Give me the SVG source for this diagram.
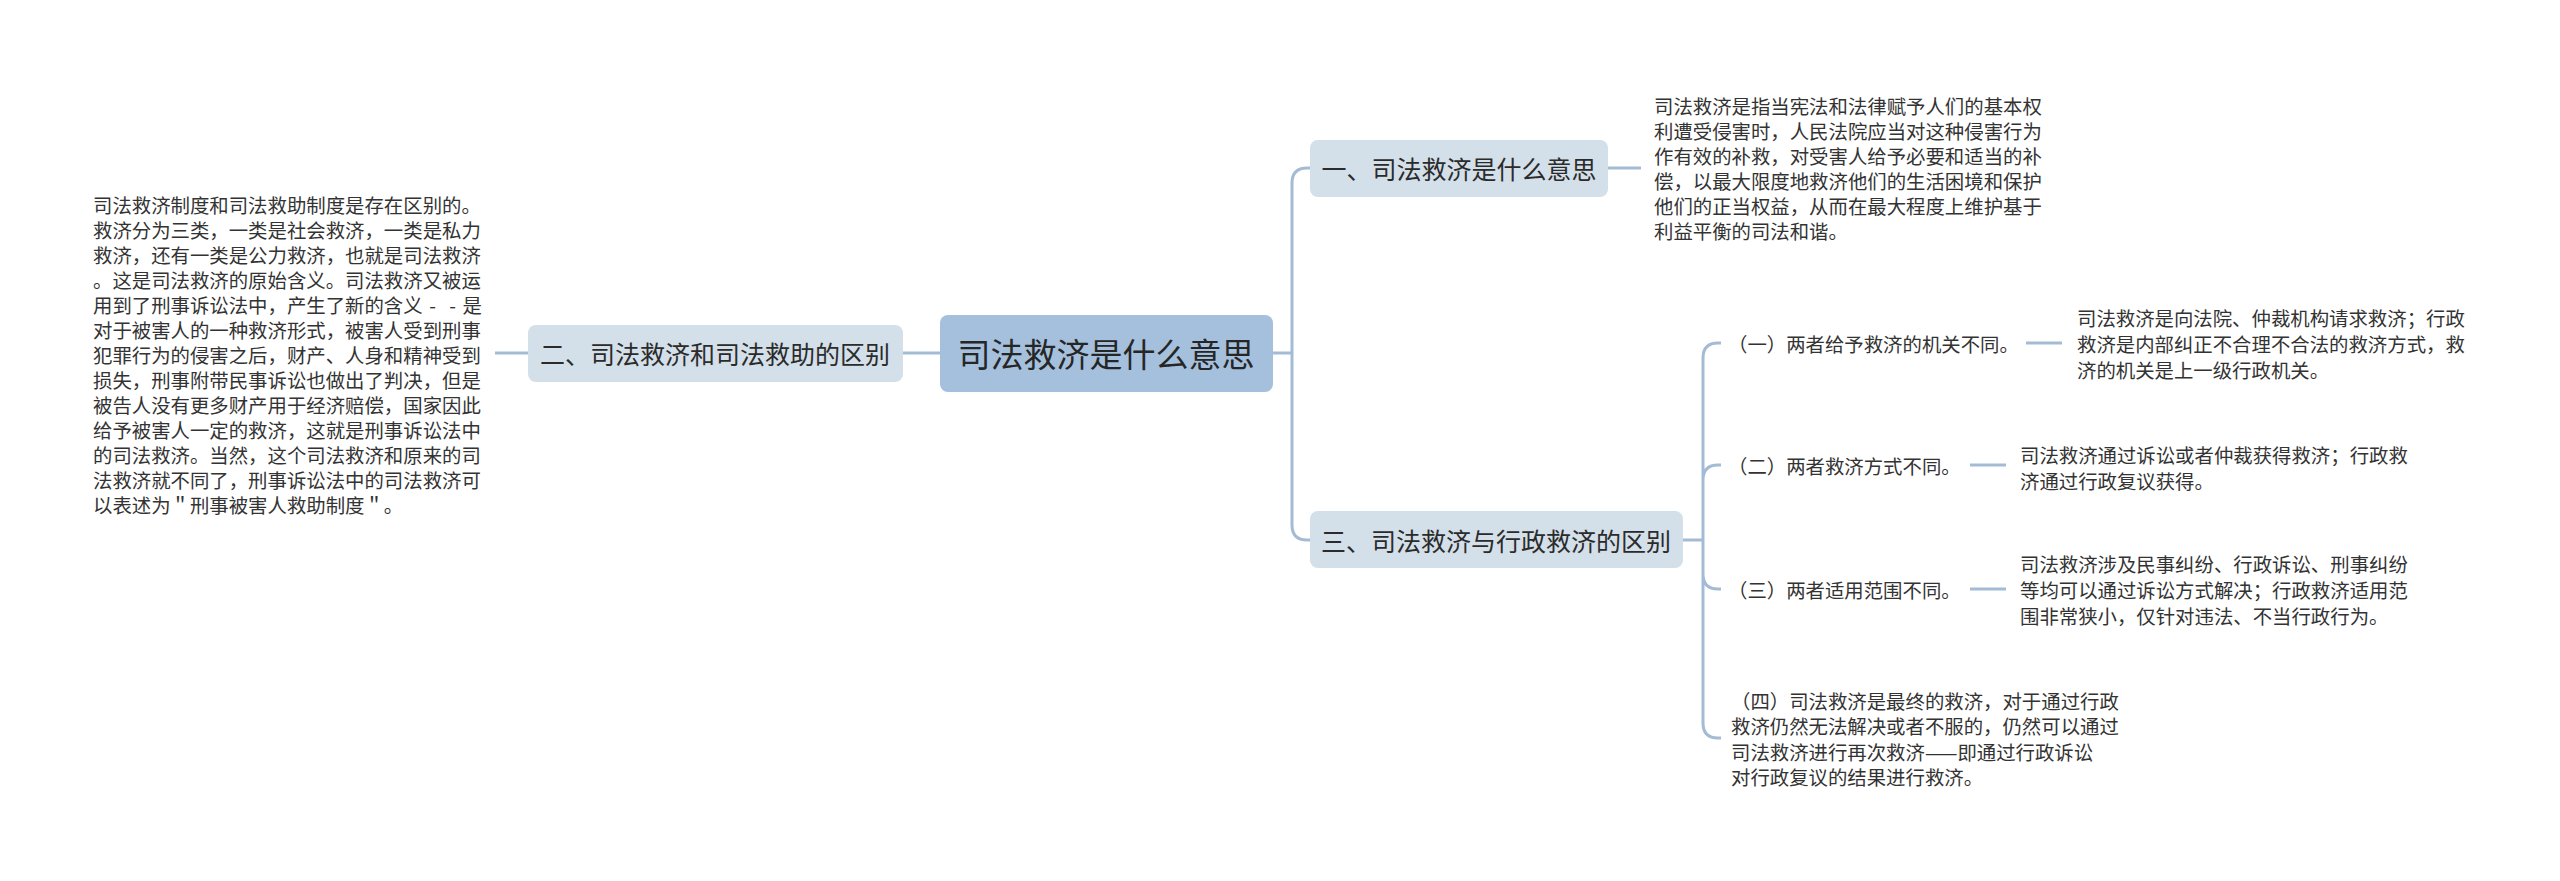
<svg xmlns="http://www.w3.org/2000/svg" width="2560" height="881" viewBox="0 0 2560 881">
<style>
text{font-family:"Noto Sans CJK SC","Noto Sans",sans-serif;fill:#333;dominant-baseline:central}
.t{font-size:19.4px}
.n{font-size:25px;text-anchor:middle;fill:#2b2b2b}
.c{font-size:33px;text-anchor:middle;fill:#262626}
.box2{fill:#d3dfe9}
.box1{fill:#a4c0dc}
.ln{fill:none;stroke:#a3bbd4;stroke-width:3}
</style>
<rect width="2560" height="881" fill="#fff"/>
<g id="connectors">
<path class="ln" d="M1273,353 H1292 M1292,353 V183 Q1292,168 1307,168 H1310 M1292,353 V525 Q1292,540 1307,540 H1310"/>
<path class="ln" d="M940,353 H903"/>
<path class="ln" d="M528,353 H495"/>
<path class="ln" d="M1608,168 H1641"/>
<path class="ln" d="M1683,540 H1703 M1703,540 V358 Q1703,343 1718,343 H1721 M1703,540 V480 Q1703,465 1718,465 H1721 M1703,540 V574 Q1703,589 1718,589 H1721 M1703,540 V723 Q1703,738 1718,738 H1721"/>
<path class="ln" d="M2026,343 H2062 M1970,465 H2006 M1970,589 H2006"/>
</g>
<g id="root">
<rect class="box1" x="940" y="315" width="333" height="77" rx="8"/>
<text class="c" x="1106" y="353">司法救济是什么意思</text>
</g>
<g id="n2">
<rect class="box2" x="528" y="325" width="375" height="57" rx="8"/>
<text class="n" x="715" y="353">二、司法救济和司法救助的区别</text>
</g>
<g id="n2-detail">
<text class="t" x="93" y="204">司法救济制度和司法救助制度是存在区别的。</text>
<text class="t" x="93" y="229">救济分为三类，一类是社会救济，一类是私力</text>
<text class="t" x="93" y="254">救济，还有一类是公力救济，也就是司法救济</text>
<text class="t" x="93" y="279">。这是司法救济的原始含义。司法救济又被运</text>
<text class="t" x="93" y="304">用到了刑事诉讼法中，产生了新的含义<tspan dx="6.6">-</tspan><tspan dx="13.2">-</tspan><tspan dx="6.6">是</tspan></text>
<text class="t" x="93" y="329">对于被害人的一种救济形式，被害人受到刑事</text>
<text class="t" x="93" y="354">犯罪行为的侵害之后，财产、人身和精神受到</text>
<text class="t" x="93" y="379">损失，刑事附带民事诉讼也做出了判决，但是</text>
<text class="t" x="93" y="404">被告人没有更多财产用于经济赔偿，国家因此</text>
<text class="t" x="93" y="429">给予被害人一定的救济，这就是刑事诉讼法中</text>
<text class="t" x="93" y="454">的司法救济。当然，这个司法救济和原来的司</text>
<text class="t" x="93" y="479">法救济就不同了，刑事诉讼法中的司法救济可</text>
<text class="t" x="93" y="504">以表述为＂刑事被害人救助制度＂。</text>
</g>
<g id="n1">
<rect class="box2" x="1310" y="140" width="298" height="57" rx="8"/>
<text class="n" x="1459" y="168">一、司法救济是什么意思</text>
</g>
<g id="n1-detail">
<text class="t" x="1654" y="105">司法救济是指当宪法和法律赋予人们的基本权</text>
<text class="t" x="1654" y="130">利遭受侵害时，人民法院应当对这种侵害行为</text>
<text class="t" x="1654" y="155">作有效的补救，对受害人给予必要和适当的补</text>
<text class="t" x="1654" y="180">偿，以最大限度地救济他们的生活困境和保护</text>
<text class="t" x="1654" y="205">他们的正当权益，从而在最大程度上维护基于</text>
<text class="t" x="1654" y="230">利益平衡的司法和谐。</text>
</g>
<g id="n3">
<rect class="box2" x="1310" y="511" width="373" height="57" rx="8"/>
<text class="n" x="1496" y="540">三、司法救济与行政救济的区别</text>
</g>
<g id="c1">
<text class="t" x="1728" y="343">（一）两者给予救济的机关不同。</text>
</g>
<g id="c1-detail">
<text class="t" x="2077" y="317">司法救济是向法院、仲裁机构请求救济；行政</text>
<text class="t" x="2077" y="343">救济是内部纠正不合理不合法的救济方式，救</text>
<text class="t" x="2077" y="369">济的机关是上一级行政机关。</text>
</g>
<g id="c2">
<text class="t" x="1728" y="465">（二）两者救济方式不同。</text>
</g>
<g id="c2-detail">
<text class="t" x="2020" y="454">司法救济通过诉讼或者仲裁获得救济；行政救</text>
<text class="t" x="2020" y="480">济通过行政复议获得。</text>
</g>
<g id="c3">
<text class="t" x="1728" y="589">（三）两者适用范围不同。</text>
</g>
<g id="c3-detail">
<text class="t" x="2020" y="563">司法救济涉及民事纠纷、行政诉讼、刑事纠纷</text>
<text class="t" x="2020" y="589">等均可以通过诉讼方式解决；行政救济适用范</text>
<text class="t" x="2020" y="615">围非常狭小，仅针对违法、不当行政行为。</text>
</g>
<g id="c4">
<text class="t" x="1731" y="700">（四）司法救济是最终的救济，对于通过行政</text>
<text class="t" x="1731" y="725.5">救济仍然无法解决或者不服的，仍然可以通过</text>
<text class="t" x="1731" y="751">司法救济进行再次救济——即通过行政诉讼</text>
<text class="t" x="1731" y="776.5">对行政复议的结果进行救济。</text>
</g>
</svg>
